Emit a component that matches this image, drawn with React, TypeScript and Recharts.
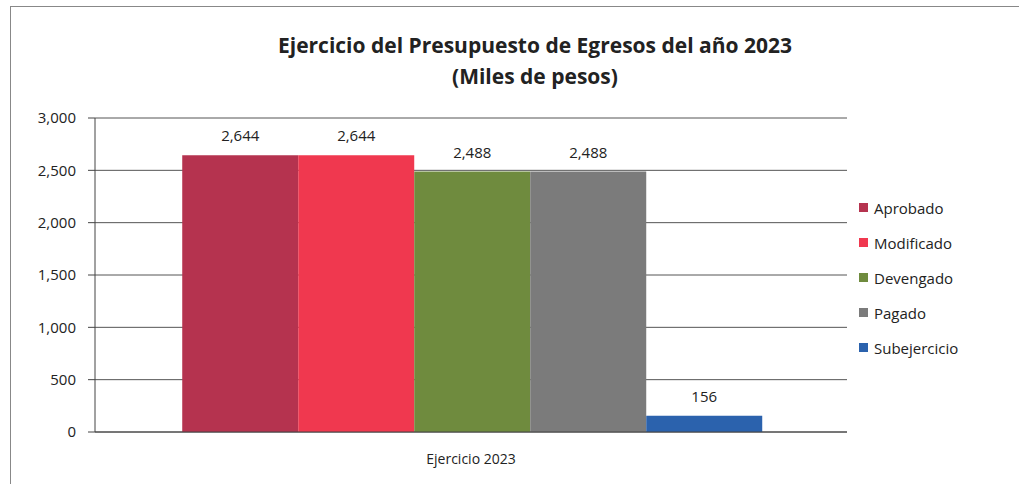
import { BarChart, Bar, XAxis, YAxis, CartesianGrid, LabelList } from 'recharts'

const categories = ['Ejercicio 2023']
const seriesNames = ['Aprobado', 'Modificado', 'Devengado', 'Pagado', 'Subejercicio']
const seriesValues = [2644, 2644, 2488, 2488, 156]
const seriesColors = ['#b5334f', '#f0384f', '#6f8b3e', '#7b7b7b', '#2b62ad']
const yTicks = [0, 500, 1000, 1500, 2000, 2500, 3000]

const data = categories.map((c) => {
  const row: Record<string, string | number> = { name: c }
  seriesNames.forEach((s, i) => { row[s] = seriesValues[i] })
  return row
})

const fmt = (v: number) => v.toLocaleString('en-US')
const font = '"Open Sans", "Noto Sans", sans-serif'

export default function App() {
  return (
    <div style={{ position: 'absolute', left: 0, top: 0, width: 1019, height: 484, background: '#fff', overflow: 'hidden', fontFamily: font }}>
      <div style={{ position: 'absolute', left: 10, top: 6, width: 1020, height: 490, borderLeft: '1.5px solid #888', borderTop: '1.5px solid #888' }} />
      <div style={{ position: 'absolute', left: 0, width: 1070, top: 30, textAlign: 'center', fontWeight: 700, fontSize: 21, color: '#222', lineHeight: '31px' }}>
        Ejercicio del Presupuesto de Egresos del año 2023
        <br />
        (Miles de pesos)
      </div>
      <BarChart
        width={1019}
        height={484}
        data={data}
        margin={{ top: 118, right: 172, bottom: 22, left: 10 }}
        barCategoryGap="11.6%"
        barGap={0}
      >
        <CartesianGrid vertical={false} stroke="#555" />
        <XAxis
          dataKey="name"
          height={30}
          axisLine={{ stroke: '#444' }}
          tickLine={false}
          tick={{ fill: '#222', fontSize: 14, fontFamily: font }}
          tickMargin={16}
        />
        <YAxis
          width={85}
          domain={[0, 3000]}
          ticks={yTicks}
          tickFormatter={fmt}
          axisLine={{ stroke: '#444' }}
          tickLine={{ stroke: '#444' }}
          tickSize={7}
          tickMargin={12}
          tick={{ fill: '#222', fontSize: 15, fontFamily: font }}
        />
        {seriesNames.map((s, i) => (
          <Bar key={s} dataKey={s} fill={seriesColors[i]} isAnimationActive={false}>
            <LabelList dataKey={s} position="top" offset={14} formatter={(v: number) => fmt(v)} style={{ fill: '#222', fontSize: 15, fontFamily: font }} />
          </Bar>
        ))}
      </BarChart>
      <div style={{ position: 'absolute', left: 859, top: 190 }}>
        {seriesNames.map((s, i) => (
          <div key={s} style={{ display: 'flex', alignItems: 'center', height: 35, fontSize: 15, color: '#222' }}>
            <span style={{ width: 9, height: 9, background: seriesColors[i], marginRight: 6, flexShrink: 0 }} />
            {s}
          </div>
        ))}
      </div>
    </div>
  )
}
